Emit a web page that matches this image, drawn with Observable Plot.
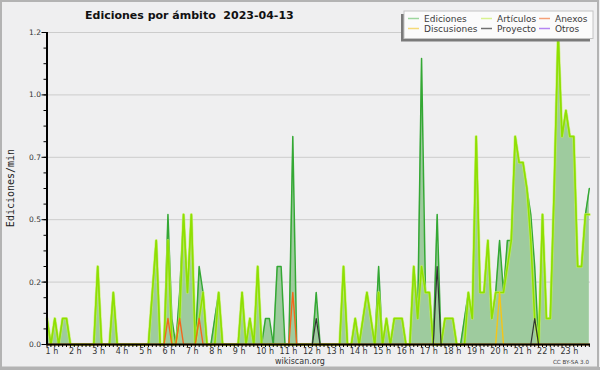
<!DOCTYPE html>
<html><head><meta charset="utf-8">
<script src="https://cdn.jsdelivr.net/npm/d3@7"></script>
<script src="https://cdn.jsdelivr.net/npm/@observablehq/plot@0.6"></script>
<style>
html,body{margin:0;padding:0;background:#efeff0;}
#chart{position:relative;width:600px;height:370px;}
</style></head><body>
<div id="chart"></div>
<script>
// Ediciones por minuto, intervalos de 10 minutos desde 1 h
const ediciones = [
 0.1,0,0.1,0,0.1,0.1,0,0,0,0,0,0,
 0,0.3,0,0,0,0.2,0,0,0,0,0,0,
 0,0,0,0.2,0.4,0,0,0.5,0.1,0,0.2,0.5,
 0.2,0.5,0,0.3,0.2,0,0,0.1,0.2,0,0,0,
 0,0,0.2,0,0.1,0,0.3,0,0.1,0.1,0,0.3,
 0.3,0,0,0.8,0,0,0,0,0,0.2,0,0,
 0,0,0,0,0.3,0,0,0.1,0,0.1,0.2,0.1,
 0,0.3,0,0.1,0,0.1,0.1,0.1,0,0,0.3,0.1,
 1.1,0.2,0.2,0,0.5,0,0.1,0.1,0.1,0,0,0.1,
 0.2,0.1,0.8,0.2,0.2,0.4,0.1,0.2,0.4,0.2,0.4,0.4,
 0.8,0.7,0.7,0.6,0.5,0.3,0,0.5,0.1,0.1,0.6,1.2,
 0.8,0.9,0.8,0.8,0.3,0.3,0.5,0.6
];
const articulos = [
 0.1,0,0.1,0,0.1,0.1,0,0,0,0,0,0,
 0,0.3,0,0,0,0.2,0,0,0,0,0,0,
 0,0,0,0.2,0.4,0,0,0.4,0,0,0.1,0.5,
 0.2,0.5,0,0.1,0.2,0,0,0,0.2,0,0,0,
 0,0,0.2,0,0.1,0,0.3,0,0,0,0,0,
 0,0,0,0,0,0,0,0,0,0,0,0,
 0,0,0,0,0.3,0,0,0.1,0,0.1,0.2,0.1,
 0,0.2,0,0.1,0,0.1,0.1,0.1,0,0,0.3,0.1,
 0.3,0.2,0.2,0,0,0,0.1,0.1,0.1,0,0,0,
 0.2,0.1,0.8,0.2,0.2,0.4,0.1,0.2,0.2,0.2,0.3,0.4,
 0.8,0.7,0.7,0.6,0.4,0.1,0,0.5,0.1,0.1,0.6,1.2,
 0.8,0.9,0.8,0.8,0.3,0.3,0.5,0.5
];
const anexos = [
 0,0,0,0,0,0,0,0,0,0,0,0,
 0,0,0,0,0,0,0,0,0,0,0,0,
 0,0,0,0,0,0,0,0.1,0,0,0.1,0,
 0,0,0,0.1,0,0,0,0,0,0,0,0,
 0,0,0,0,0,0,0,0,0,0,0,0,
 0,0,0,0.2,0,0,0,0,0,0,0,0,
 0,0,0,0,0,0,0,0,0,0,0,0,
 0,0,0,0,0,0,0,0,0,0,0,0,
 0,0,0,0,0,0,0,0,0,0,0,0,
 0,0,0,0,0,0,0,0,0,0,0,0,
 0,0,0,0,0,0,0,0,0,0,0,0,
 0,0,0,0,0,0,0,0
];
const discusiones = [
 0,0,0,0,0,0,0,0,0,0,0,0,
 0,0,0,0,0,0,0,0,0,0,0,0,
 0,0,0,0,0,0,0,0,0,0,0,0,
 0,0,0,0,0,0,0,0,0,0,0,0,
 0,0,0,0,0,0,0,0,0,0,0,0,
 0,0,0,0,0,0,0,0,0,0,0,0,
 0,0,0,0,0,0,0,0,0,0,0,0,
 0,0,0,0,0,0,0,0,0,0,0,0,
 0,0,0,0,0,0,0,0,0,0,0,0,
 0,0,0,0,0,0,0,0,0.2,0,0,0,
 0,0,0,0,0,0,0,0,0,0,0,0,
 0,0,0,0,0,0,0,0
];
const proyecto = [
 0,0,0,0,0,0,0,0,0,0,0,0,
 0,0,0,0,0,0,0,0,0,0,0,0,
 0,0,0,0,0,0,0,0,0,0,0,0,
 0,0,0,0,0,0,0,0,0,0,0,0,
 0,0,0,0,0,0,0,0,0,0,0,0,
 0,0,0,0,0,0,0,0,0,0.1,0,0,
 0,0,0,0,0,0,0,0,0,0,0,0,
 0,0,0,0,0,0,0,0,0,0,0,0,
 0,0,0,0,0.3,0,0,0,0,0,0,0,
 0,0,0,0,0,0,0,0,0,0,0,0,
 0,0,0,0,0,0.1,0,0,0,0,0,0,
 0,0,0,0,0,0,0,0
];
const hourLabels = ["1 h","2 h","3 h","4 h","5 h","6 h","7 h","8 h","9 h","10 h","11 h","12 h",
  "13 h","14 h","15 h","16 h","17 h","18 h","19 h","20 h","21 h","22 h","23 h"];
const yTicks = [0, 0.24, 0.48, 0.72, 0.96, 1.2];
const legendNames = ["Ediciones","Artículos","Anexos","Discusiones","Proyecto","Otros"];
const legendColors = ["#9dd69d","#d8f290","#f5a078","#f5da78","#707070","#b585f2"];
const titleText = "Ediciones por ámbito\u00a0\u00a02023-04-13";

const rows = ediciones.map((v, i) => ({i, total: v, art: articulos[i], anx: anexos[i], disc: discusiones[i], proy: proyecto[i]}));
const idx = rows.map(d => d.i);
const hourIdx = hourLabels.map((_, k) => k * 6);
const minorY = d3.range(0, 21).map(k => +(k * 0.06).toFixed(2));

const plot = Plot.plot({
  width: 600, height: 370,
  marginLeft: 46.5, marginRight: 10, marginTop: 32, marginBottom: 26,
  x: {domain: [0, 139.3], label: null},
  y: {domain: [0, 1.2], label: null},
  style: {background: "transparent", fontFamily: "DejaVu Sans", color: "#222"},
  marks: [
    Plot.ruleY(yTicks.slice(1), {stroke: "#cccccc", strokeWidth: 1}),
    Plot.areaY(rows, {x: "i", y: "total", fill: "#9ecb9e"}),
    Plot.lineY(rows, {x: "i", y: "total", stroke: "#34a834", strokeWidth: 1.5}),
    Plot.lineY(rows, {x: "i", y: "art", stroke: "#c6f25a", strokeWidth: 3, strokeOpacity: 0.7}),
    Plot.lineY(rows, {x: "i", y: "art", stroke: "#8fe000", strokeWidth: 1.6}),
    Plot.lineY(rows, {x: "i", y: "anx", stroke: "#f4661c", strokeWidth: 1.4}),
    Plot.lineY(rows, {x: "i", y: "disc", stroke: "#f5c518", strokeWidth: 1.4}),
    Plot.lineY(rows, {x: "i", y: "proy", stroke: "#333333", strokeWidth: 1.2}),
    Plot.ruleY([0], {stroke: "#000", strokeWidth: 2}),
    Plot.ruleX([0], {stroke: "#000", strokeWidth: 2}),
    Plot.axisY({ticks: minorY, tickSize: 3, tickFormat: () => "", label: null, stroke: "#000"}),
    Plot.axisY({ticks: yTicks, tickSize: 5, tickPadding: 1, tickFormat: d => d.toFixed(1), label: null, fontSize: 7.5, fill: "#333", stroke: "#000"}),
    Plot.axisX({ticks: idx, tickSize: 3, tickFormat: () => "", label: null, stroke: "#000"}),
    Plot.axisX({ticks: hourIdx, tickSize: 0, tickPadding: 4, tickFormat: d => hourLabels[d / 6], textAnchor: "start", dx: -1.5, label: null, fontSize: 8, fill: "#333"})
  ]
});
document.getElementById("chart").appendChild(plot);

const svg = d3.select(plot);
// outer frame
svg.insert("rect", ":first-child").attr("x", 1).attr("y", 1).attr("width", 597).attr("height", 366.5)
  .attr("fill", "#efeff0").attr("stroke", "#b3b3b3").attr("stroke-width", 2);
svg.append("line").attr("x1", 0).attr("x2", 600).attr("y1", 368.5).attr("y2", 368.5).attr("stroke", "#b3b3b3").attr("stroke-width", 3);

svg.append("text").attr("x", 85).attr("y", 18.5).attr("text-anchor", "start").attr("font-family", "DejaVu Sans")
  .attr("font-weight", "bold").attr("font-size", 11).attr("fill", "#111").text(titleText);

svg.append("text").attr("transform", "translate(14,188) rotate(-90)").attr("text-anchor", "middle")
  .attr("font-family", "DejaVu Sans Mono").attr("font-size", 10).attr("fill", "#222").text("Ediciones/min");

svg.append("text").attr("x", 300).attr("y", 364).attr("text-anchor", "middle").attr("font-family", "DejaVu Sans")
  .attr("font-size", 8).attr("fill", "#333").text("wikiscan.org");
svg.append("text").attr("x", 589).attr("y", 364).attr("text-anchor", "end").attr("font-family", "DejaVu Sans")
  .attr("font-size", 5.6).attr("fill", "#444").text("CC BY-SA 3.0");

// legend
const lg = svg.append("g");
lg.append("rect").attr("x", 401).attr("y", 14).attr("width", 189).attr("height", 27.5).attr("fill", "#7a7a7a");
lg.append("rect").attr("x", 404).attr("y", 11).attr("width", 189).attr("height", 27.5).attr("fill", "#fbfbfb").attr("stroke", "#c4c4c4");
const colX = [408, 481, 539];
const rowY = [18.5, 28.5];
legendNames.forEach((name, k) => {
  const col = k % 3, row = Math.floor(k / 3);
  const x = colX[col], y = rowY[row];
  lg.append("line").attr("x1", x).attr("x2", x + 11).attr("y1", y).attr("y2", y)
    .attr("stroke", legendColors[k]).attr("stroke-width", 1.5);
  lg.append("text").attr("x", x + 16).attr("y", y + 3.5).attr("text-anchor", "start").attr("font-family", "DejaVu Sans")
    .attr("font-size", 9).attr("fill", "#3a3a3a").text(name);
});
</script>
</body></html>
